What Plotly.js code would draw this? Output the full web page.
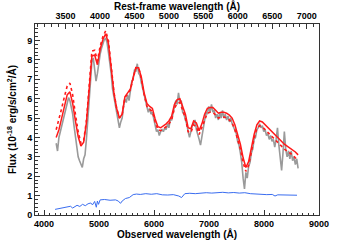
<!DOCTYPE html>
<html><head><meta charset="utf-8">
<script src="https://cdn.plot.ly/plotly-3.0.1.min.js"></script>
<style>html,body{margin:0;padding:0;background:#fff}#chart{width:355px;height:240px}</style>
</head><body><div id="chart"></div>
<script>
// observed wavelength grid for models (Å)
const modelWave = [4220,4270,4320,4370,4420,4470,4520,4570,4620,4670,4720,4770,4820,4870,4920,4970,5020,5070,5120,5170,5220,5270,5320,5370,5420,5470,5520,5570,5620,5670,5720,5770,5820,5870,5920,5970,6020,6070,6120,6170,6220,6270,6320,6370,6420,6470,6520,6570,6620,6670,6720,6770,6820,6870,6920,6970,7020,7070,7120,7170,7220,7270,7320,7370,7420,7470,7520,7570,7620,7670,7720,7770,7820,7870,7920,7970,8020,8070,8120,8170,8220,8270,8320,8370,8420,8470,8520,8570,8620];
const modelSolid = [4.0,4.4,5.0,5.6,6.2,6.35,5.75,4.85,4.05,3.55,3.75,4.75,6.6,8.2,8.25,7.75,8.55,9.05,9.35,8.85,7.6,6.3,5.5,5.0,5.2,6.1,6.3,6.5,7.1,7.6,7.6,7.1,6.3,5.75,5.6,5.5,4.95,4.55,4.5,4.6,4.7,4.85,5.1,5.7,5.95,6.0,5.65,5.2,4.5,4.45,4.85,4.75,4.35,4.7,5.2,5.5,5.55,5.55,5.4,5.25,5.3,5.3,5.25,5.15,5.0,4.65,4.15,3.65,2.95,2.45,2.75,3.45,4.15,4.65,4.85,4.8,4.65,4.5,4.35,4.2,4.05,3.9,3.75,3.65,3.55,3.45,3.35,3.25,3.1];
const modelDotted = [4.4,4.9,5.5,6.1,6.65,6.8,6.2,5.2,4.3,3.7,3.85,4.85,6.8,8.45,8.5,7.95,8.7,9.2,9.5,9.0,7.7,6.35,5.5,5.0,5.15,6.05,6.25,6.45,7.05,7.6,7.6,7.0,6.2,5.6,5.45,5.35,4.8,4.4,4.35,4.45,4.55,4.7,4.9,5.5,5.75,5.8,5.45,5.0,4.3,4.25,4.65,4.55,4.15,4.5,4.95,5.25,5.3,5.3,5.15,5.0,5.05,5.05,5.0,4.9,4.75,4.4,3.9,3.4,2.7,2.25,2.55,3.25,3.95,4.45,4.6,4.55,4.4,4.25,4.1,3.95,3.8,3.65,3.5,3.4,3.3,3.2,3.1,2.95,2.85];

// observed spectrum (grey)
const obsWave = [4220,4245,4270,4295,4320,4345,4370,4395,4420,4445,4470,4495,4520,4545,4570,4595,4620,4645,4670,4695,4720,4745,4770,4795,4820,4845,4870,4895,4920,4945,4970,4995,5020,5045,5070,5095,5120,5145,5170,5195,5220,5245,5270,5295,5320,5345,5370,5395,5420,5445,5470,5495,5520,5545,5570,5595,5620,5645,5670,5695,5720,5745,5770,5795,5820,5845,5870,5895,5920,5945,5970,5995,6020,6045,6070,6095,6120,6145,6170,6195,6220,6245,6270,6295,6320,6345,6370,6395,6420,6445,6470,6495,6520,6545,6570,6595,6620,6645,6670,6695,6720,6745,6770,6795,6820,6845,6870,6895,6920,6945,6970,6995,7020,7045,7070,7095,7120,7145,7170,7195,7220,7245,7270,7295,7320,7345,7370,7395,7420,7445,7470,7495,7520,7545,7570,7595,7620,7645,7670,7695,7720,7745,7770,7795,7820,7845,7870,7895,7920,7945,7970,7995,8020,8045,8070,8095,8120,8145,8170,8195,8220,8245,8270,8295,8320,8345,8370,8395,8420,8445,8470,8495,8520,8545,8570,8595,8620];
const obsFlux = [3.7,3.3,4.0,4.3,4.6,4.8,5.2,5.5,5.8,6.05,5.9,5.6,5.2,4.6,4.0,3.5,3.0,2.8,2.6,2.45,2.9,3.1,3.9,4.9,6.0,7.1,7.9,8.1,7.6,6.9,7.3,7.9,8.3,8.6,8.8,9.05,9.1,8.9,8.4,7.9,7.3,6.5,6.1,5.5,5.2,4.8,4.5,4.8,5.0,5.6,6.0,5.8,6.2,5.9,6.4,6.9,7.0,7.5,7.4,7.8,7.3,7.2,6.8,6.5,6.1,5.9,5.6,5.3,5.5,5.2,5.3,4.9,4.7,4.3,4.4,4.1,4.3,4.4,4.3,4.5,4.4,4.7,4.5,4.9,4.9,5.3,5.5,5.9,5.7,6.3,5.8,5.9,5.3,5.2,4.9,4.7,4.3,4.0,4.3,4.6,4.7,4.9,4.4,4.2,3.9,3.6,4.0,4.6,5.0,5.3,5.2,5.6,5.3,5.7,5.3,5.4,5.0,5.2,4.9,5.3,5.0,5.4,5.0,5.2,4.9,5.1,4.8,5.0,4.7,4.5,4.3,4.2,3.8,3.6,3.2,2.7,1.9,1.35,2.2,1.9,2.5,2.7,3.2,3.4,3.9,4.0,4.4,4.5,4.7,4.5,4.6,4.3,4.4,4.1,4.2,3.9,4.1,3.8,3.9,3.5,3.9,4.5,3.6,3.0,2.3,3.2,4.3,3.4,3.0,3.3,2.9,3.3,2.8,3.0,2.6,2.9,2.4];

// error / sky spectrum (blue)
const errWave = [4200,4250,4300,4350,4400,4450,4480,4520,4560,4600,4650,4700,4750,4800,4850,4880,4920,4950,4970,4990,5020,5100,5200,5300,5350,5390,5420,5480,5550,5620,5680,5750,5850,5950,6050,6150,6250,6350,6450,6500,6560,6650,6750,6850,6950,7050,7150,7250,7350,7450,7550,7650,7750,7850,7950,8050,8150,8200,8250,8350,8450,8550,8600];
const errFlux = [0.29,0.32,0.35,0.38,0.40,0.43,0.45,0.36,0.45,0.50,0.44,0.55,0.48,0.58,0.62,0.52,0.70,0.40,0.72,0.55,0.78,0.80,0.76,0.78,0.72,0.60,0.72,0.85,0.90,1.05,1.08,1.06,1.10,1.07,1.10,1.04,1.03,1.05,0.98,0.90,1.10,1.12,1.10,1.13,1.15,1.13,1.15,1.17,1.14,1.16,1.13,1.15,1.10,1.08,1.08,1.05,1.06,0.98,1.04,1.03,1.02,1.03,1.02];

const onePlusZ = 1.254;
const obsRange = [3835, 9000];
const fluxRange = [0, 9.85];

const axisFont = {family: 'Liberation Sans, Arial, sans-serif', size: 9, color: '#000', weight: 'bold'};
const titleFont = {family: 'Liberation Sans, Arial, sans-serif', size: 10, color: '#000', weight: 'bold'};

const restWave = modelWave.map(w => w / onePlusZ);

const traces = [
  {x: obsWave, y: obsFlux, mode: 'lines', line: {color: '#9a9a9a', width: 1.6}, hoverinfo: 'skip'},
  {x: modelWave, y: modelSolid, mode: 'lines', line: {color: '#ff1a1a', width: 1.5}, hoverinfo: 'skip'},
  {x: modelWave, y: modelDotted, mode: 'lines', line: {color: '#ff1a1a', width: 1.6, dash: 'dot'}, hoverinfo: 'skip'},
  {x: errWave, y: errFlux, mode: 'lines', line: {color: '#3a6df0', width: 1}, hoverinfo: 'skip'},
  // rest-frame copy of the model, invisible, so the top axis is drawn
  {x: restWave, y: modelSolid, xaxis: 'x2', mode: 'lines', opacity: 0, line: {color: 'rgba(0,0,0,0)', width: 0}, hoverinfo: 'skip'}
];

const layout = {
  width: 355, height: 240,
  margin: {l: 35, r: 36, t: 24, b: 25},
  paper_bgcolor: '#fff', plot_bgcolor: '#fff',
  showlegend: false,
  xaxis: {
    range: obsRange, dtick: 1000, tick0: 0,
    ticks: 'inside', ticklen: 5, tickwidth: 1, tickcolor: '#333',
    showline: true, linecolor: '#333', linewidth: 1, mirror: true,
    showgrid: false, zeroline: false,
    tickfont: axisFont,
    minor: {dtick: 100, ticks: 'inside', ticklen: 2.5, tickcolor: '#333', showgrid: false},
    title: {text: 'Observed wavelength (Å)', font: titleFont, standoff: 2}
  },
  xaxis2: {
    overlaying: 'x', side: 'top', anchor: 'y',
    range: [obsRange[0] / onePlusZ, obsRange[1] / onePlusZ], dtick: 500, tick0: 0,
    ticks: 'inside', ticklen: 5, tickwidth: 1, tickcolor: '#333',
    showline: true, linecolor: '#333', linewidth: 1,
    showgrid: false, zeroline: false,
    tickfont: axisFont,
    minor: {dtick: 100, ticks: 'inside', ticklen: 2.5, tickcolor: '#333', showgrid: false},
    title: {text: 'Rest-frame wavelength (Å)', font: titleFont, standoff: 2}
  },
  yaxis: {
    range: fluxRange, dtick: 1, tick0: 0,
    ticks: 'inside', ticklen: 5, tickwidth: 1, tickcolor: '#333',
    showline: true, linecolor: '#333', linewidth: 1, mirror: true,
    showgrid: false, zeroline: false,
    tickfont: axisFont,
    minor: {dtick: 0.2, ticks: 'inside', ticklen: 2.5, tickcolor: '#333', showgrid: false},
    title: {text: 'Flux (10<sup>-18</sup> erg/s/cm<sup>2</sup>/Å)', font: titleFont, standoff: 8}
  }
};

Plotly.newPlot('chart', traces, layout, {staticPlot: true, displayModeBar: false});
</script>
</body></html>
